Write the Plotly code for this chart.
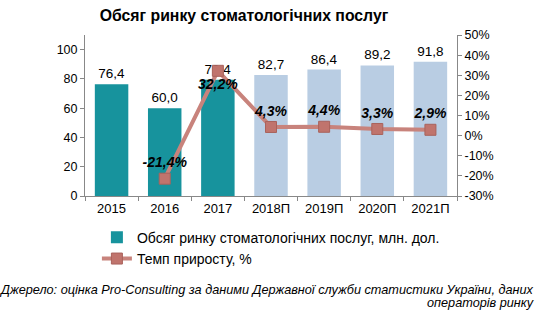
import plotly.graph_objects as go

years = ["2015", "2016", "2017", "2018П", "2019П", "2020П", "2021П"]
volume = [76.4, 60.0, 79.4, 82.7, 86.4, 89.2, 91.8]
growth = [None, -21.4, 32.2, 4.3, 4.4, 3.3, 2.9]
forecast = [False, False, False, True, True, True, True]
pct_ticks = [-30, -20, -10, 0, 10, 20, 30, 40, 50]
source_lines = ["Джерело: оцінка Pro-Consulting за даними Державної служби статистики України, даних",
                "операторів ринку"]

bar_colors = ["#b9cde3" if f else "#17939d" for f in forecast]
bar_text = [f"{v:.1f}".replace(".", ",") for v in volume]
g_text = ["" if g is None else f"{g:.1f}%".replace(".", ",") for g in growth]
g_pos = ["bottom center" if (g is not None and g > 20) else "top center" for g in growth]

FONT = "Liberation Sans, Arial, sans-serif"

fig = go.Figure()
fig.add_trace(go.Bar(
    x=years, y=volume, name="Обсяг ринку стоматологічних послуг, млн. дол.",
    marker=dict(color=bar_colors, line=dict(width=0)),
    text=bar_text, textposition="outside", cliponaxis=False,
    textfont=dict(size=13.5, color="#000000", family=FONT),
))
fig.add_trace(go.Scatter(
    x=years, y=growth, name="Темп приросту, %", yaxis="y2",
    mode="lines+markers+text",
    line=dict(color="#c8837c", width=4),
    marker=dict(symbol="square", size=11, color="#c0746d", line=dict(color="#a9625b", width=1)),
    text=g_text, textposition=g_pos, cliponaxis=False,
    textfont=dict(size=14, color="#000000", family=FONT, weight="bold", style="italic"),
))

fig.update_layout(
    width=551, height=326,
    margin=dict(l=85, r=94, t=35, b=130, autoexpand=False),
    paper_bgcolor="white", plot_bgcolor="white",
    font=dict(family=FONT, size=12, color="#000000"),
    bargap=0.37,
    showlegend=True,
    legend=dict(orientation="v", x=0.032, xanchor="left", y=-0.16, yanchor="top",
                font=dict(size=14, family=FONT), bgcolor="rgba(0,0,0,0)",
                tracegroupgap=0),
    title=dict(text="<b>Обсяг ринку стоматологічних послуг</b>", x=244/551, xanchor="center",
               y=1 - 15/326, yanchor="middle", font=dict(size=15.8, family=FONT, color="#000000")),
    xaxis=dict(showline=True, linecolor="#888888", linewidth=1, ticks="outside",
               tickson="boundaries", ticklen=4, tickcolor="#888888",
               tickfont=dict(size=13), showgrid=False),
    yaxis=dict(range=[0, 110], tickvals=[0, 20, 40, 60, 80, 100], showline=True,
               linecolor="#888888", ticks="outside", ticklen=4, tickcolor="#888888",
               showgrid=False, zeroline=False, tickfont=dict(size=12.5)),
    yaxis2=dict(range=[-30, 50], tickvals=pct_ticks, ticktext=[f"{t}%" for t in pct_ticks],
                overlaying="y", side="right", showline=True,
                linecolor="#888888", ticks="outside", ticklen=4, tickcolor="#888888",
                showgrid=False, zeroline=False, tickfont=dict(size=12.5)),
    annotations=[
        dict(text=f"<i>{source_lines[0]}</i>", xref="paper", yref="paper", x=1.212, y=-0.584,
             xanchor="right", yanchor="middle", showarrow=False,
             font=dict(size=12.7, family=FONT, color="#000000")),
        dict(text=f"<i>{source_lines[1]}</i>", xref="paper", yref="paper", x=1.212, y=-0.665,
             xanchor="right", yanchor="middle", showarrow=False,
             font=dict(size=12.7, family=FONT, color="#000000")),
    ],
)

fig.write_html("out.html")
